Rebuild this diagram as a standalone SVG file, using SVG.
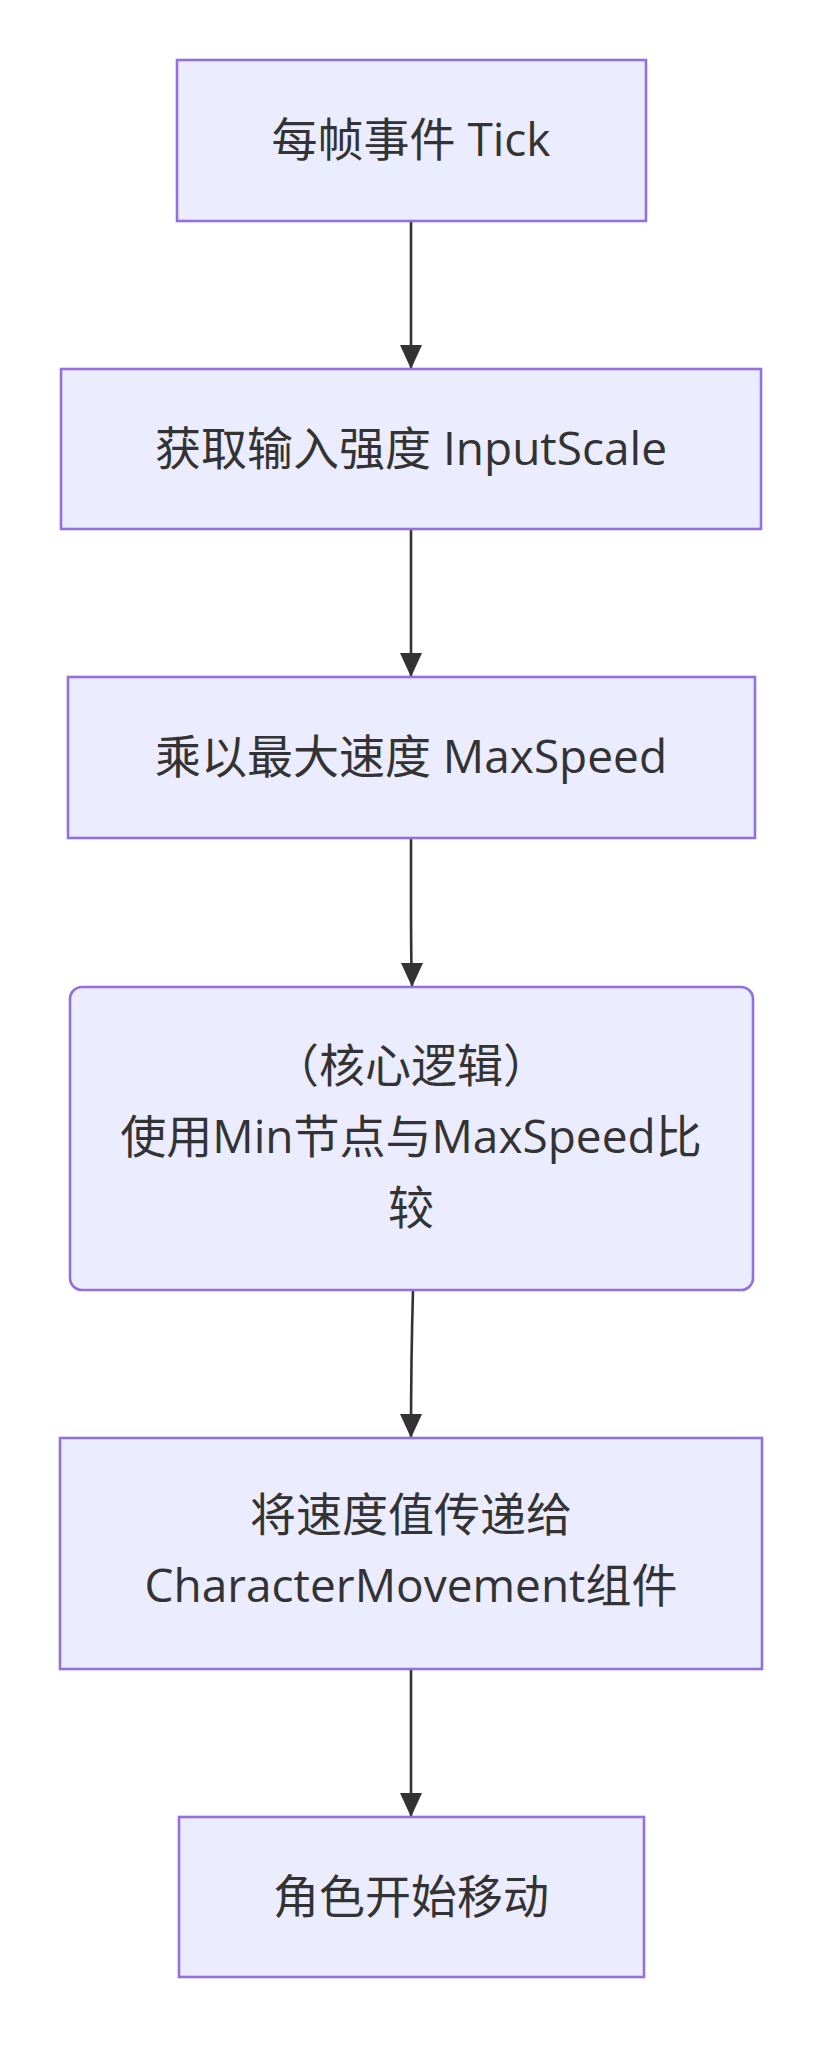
<svg xmlns="http://www.w3.org/2000/svg" width="832" height="2061" viewBox="0 0 832 2061">
<style>
.n{fill:#ECECFF;stroke:#9370DB;stroke-width:2.6}
.t{font-family:"Open Sans","Noto Sans CJK SC",sans-serif;font-size:46px;fill:#333;text-anchor:middle}
.e{fill:none;stroke:#333;stroke-width:2.6}
</style>
<rect width="832" height="2061" fill="#fff"/>
<g id="edges">
<path class="e" d="M411,221V369"/>
<path class="e" d="M411,529V677"/>
<path class="e" d="M411,838V900Q411,960 412,987"/>
<path class="e" d="M413,1290Q411,1360 411,1438"/>
<path class="e" d="M411,1669V1817"/>
<g fill="#333">
<path d="M400,345L411,369L422,345z"/>
<path d="M400,653L411,677L422,653z"/>
<path d="M401,963L412,987L423,963z"/>
<path d="M400,1414L411,1438L422,1414z"/>
<path d="M400,1793L411,1817L422,1793z"/>
</g>
</g>
<g id="n1"><rect class="n" x="177" y="60" width="469" height="161"/><text class="t" x="411" y="156">每帧事件 Tick</text></g>
<g id="n2"><rect class="n" x="61" y="369" width="700" height="160"/><text class="t" x="411" y="465">获取输入强度 InputScale</text></g>
<g id="n3"><rect class="n" x="68" y="677" width="687" height="161"/><text class="t" x="411" y="773">乘以最大速度 MaxSpeed</text></g>
<g id="n4"><rect class="n" x="70" y="987" width="683" height="303" rx="12"/><text class="t" x="411" y="1082">（核心逻辑）</text><text class="t" x="411" y="1153">使用Min节点与MaxSpeed比</text><text class="t" x="411" y="1224">较</text></g>
<g id="n5"><rect class="n" x="60" y="1438" width="702" height="231"/><text class="t" x="411" y="1531">将速度值传递给</text><text class="t" x="411" y="1602">CharacterMovement组件</text></g>
<g id="n6"><rect class="n" x="179" y="1817" width="465" height="160"/><text class="t" x="411" y="1913">角色开始移动</text></g>
</svg>
